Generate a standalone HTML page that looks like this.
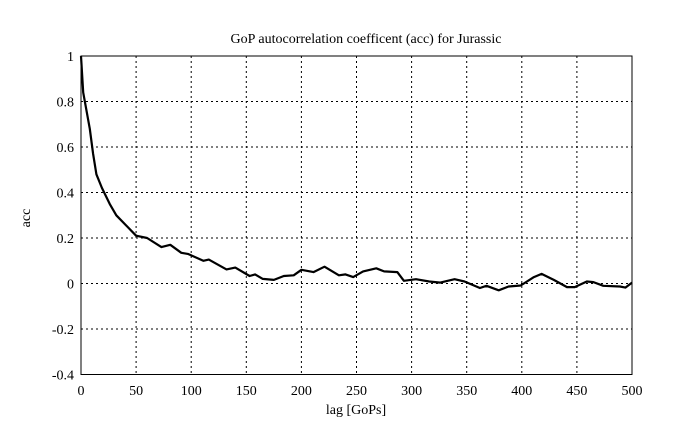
<!DOCTYPE html>
<html><head><meta charset="utf-8"><style>
body{margin:0;background:#fff}
svg text{font-family:"Liberation Serif",serif;font-size:14px;fill:#000}
</style></head><body>
<svg width="689" height="433">
<text x="366" y="43" text-anchor="middle">GoP autocorrelation coefficent (acc) for Jurassic</text>
<text x="356" y="414" text-anchor="middle">lag [GoPs]</text>
<text transform="translate(30,218) rotate(-90)" text-anchor="middle">acc</text>
<g id="grid"></g><g id="ticks"></g>
<rect x="81" y="56" width="551" height="318.5" fill="none" stroke="#000" stroke-width="1"/>
<path id="line" fill="none" stroke="#000" stroke-width="2.2" stroke-linejoin="round"/>
</svg>
<script>
const lags=[0,2,8,11,14,19,26,32,41,50,60,73,81,91,97,111,116,132,140,153,158,165,175,184,193,200,211,221,234,240,247,256,268,275,287,293,304,316,326,339,348,362,368,379,388,399,411,418,429,441,448,459,465,474,489,494,500];
const acc=[1.0,0.84,0.68,0.57,0.48,0.42,0.35,0.30,0.255,0.21,0.20,0.16,0.17,0.135,0.13,0.10,0.105,0.062,0.07,0.033,0.04,0.02,0.016,0.033,0.036,0.06,0.05,0.074,0.036,0.04,0.028,0.053,0.067,0.053,0.05,0.012,0.019,0.009,0.004,0.019,0.009,-0.02,-0.01,-0.03,-0.013,-0.009,0.028,0.042,0.016,-0.016,-0.016,0.009,0.006,-0.01,-0.013,-0.018,0.004];
const xTicks=[0,50,100,150,200,250,300,350,400,450,500];
const yTicks=[-0.4,-0.2,0,0.2,0.4,0.6,0.8,1];
const X0=81,X1=632,Y0=374.5,Y1=56;
const sx=v=>X0+(v-0)/(500)*(X1-X0);
const sy=v=>Y0-(v+0.4)/1.4*(Y0-Y1);
const NS="http://www.w3.org/2000/svg";
const grid=document.getElementById('grid'),ticks=document.getElementById('ticks');
function mk(t,a,p){const e=document.createElementNS(NS,t);for(const k in a)e.setAttribute(k,a[k]);p.appendChild(e);return e;}
xTicks.forEach(v=>{const x=sx(v);
 const g=mk('line',{x1:x,x2:x,y1:Y1,y2:Y0,stroke:'#000','stroke-width':1,'stroke-dasharray':'2,3'},grid);
 
 
 const t=mk('text',{x:x,y:395,'text-anchor':'middle'},ticks);t.textContent=v;
 
 
});
yTicks.forEach(v=>{const y=sy(v);
 const g=mk('line',{x1:X0,x2:X1,y1:y,y2:y,stroke:'#000','stroke-width':1,'stroke-dasharray':'2,3'},grid);
 
 
 const t=mk('text',{x:74,y:y+5,'text-anchor':'end'},ticks);t.textContent=Math.round(v*10)/10;
 
 
});
document.getElementById('line').setAttribute('d',lags.map((l,i)=>(i?'L':'M')+sx(l).toFixed(1)+','+sy(acc[i]).toFixed(1)).join(''));
</script>
</body></html>
